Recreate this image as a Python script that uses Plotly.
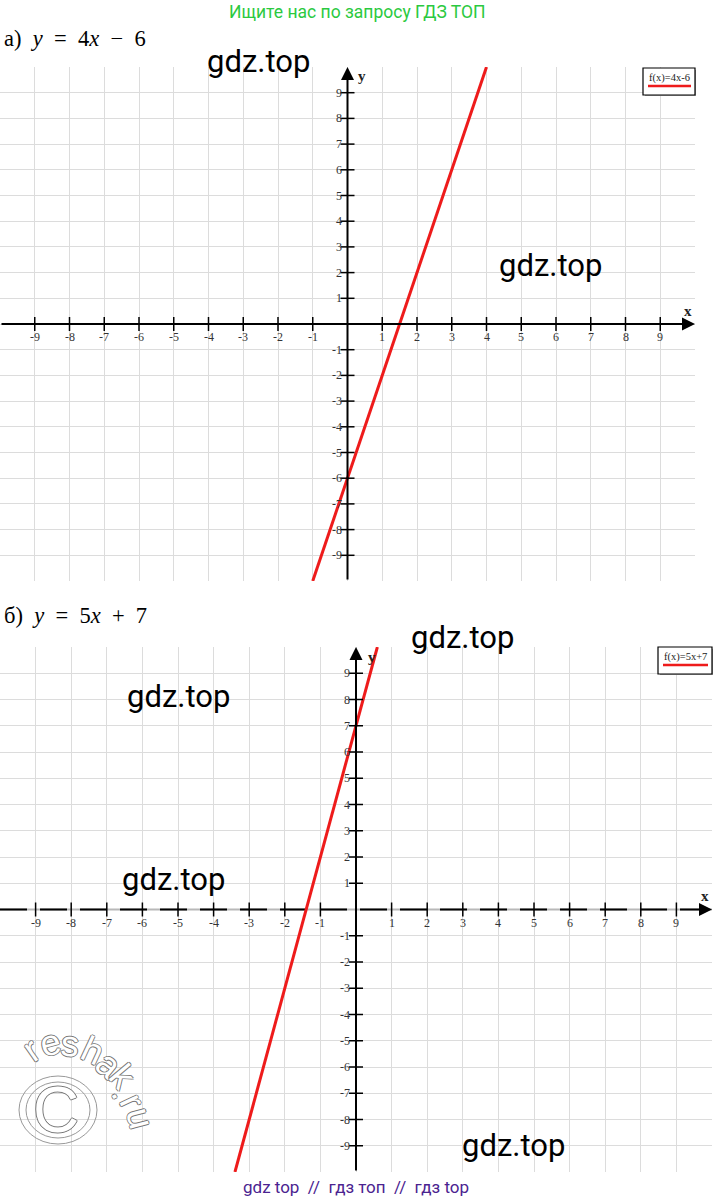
import plotly.graph_objects as go

W, H = 714, 1201

# ---------------- data ----------------
axis_range = [-10, 10]
grid_ticks = list(range(-9, 10))
tick_values = [v for v in range(-9, 10) if v != 0]

top_title = "а)  <i>y</i>  =  4<i>x</i>  −  6"
top_legend = "f(x)=4x-6"
top_line_x = [-1, 4]
top_line_y = [-10, 10]

bot_title = "б)  <i>y</i>  =  5<i>x</i>  +  7"
bot_legend = "f(x)=5x+7"
bot_line_x = [-3.4, 0.6]
bot_line_y = [-10, 10]

header_text = "Ищите нас по запросу ГДЗ ТОП"
footer_text = "gdz top  //  гдз топ  //  гдз top"
watermarks = [(258, 61), (550, 265), (462, 637), (178, 696), (173, 879), (513, 1145)]


def px(x):
    return x / W


def py(y):
    return 1 - y / H


fig = go.Figure()

panels = [
    dict(xa="x", ya="y", xaxis="xaxis", yaxis="yaxis", dashed=False,
         dom_x=[0, 695 / W], dom_y=[py(581), py(67)],
         lx=top_line_x, ly=top_line_y, legend=top_legend, title=top_title, title_y=38,
         xlab=(688, 311), ylab=(362, 76), box=(643, 68, 695, 95)),
    dict(xa="x2", ya="y2", xaxis="xaxis2", yaxis="yaxis2", dashed=True,
         dom_x=[0, 712 / W], dom_y=[py(1172), py(647)],
         lx=bot_line_x, ly=bot_line_y, legend=bot_legend, title=bot_title, title_y=615,
         xlab=(705, 896), ylab=(372, 657), box=(658, 647, 712, 674)),
]

annotations = []
shapes = []
serif = "Liberation Serif"


def note(x, y, text, font, xanchor="center", yanchor="middle", **kw):
    d = dict(x=x, y=y, text=text, showarrow=False, font=font,
             xanchor=xanchor, yanchor=yanchor)
    d.update(kw)
    annotations.append(d)


def pnote(x, y, text, font, **kw):
    note(px(x), py(y), text, font, xref="paper", yref="paper", **kw)


for p in panels:
    xa, ya = p["xa"], p["ya"]
    # x axis line (bottom panel has a faded dashed look)
    if p["dashed"]:
        fig.add_trace(go.Scatter(x=axis_range, y=[0, 0], mode="lines",
                                 line=dict(color="#b8b8b8", width=2),
                                 xaxis=xa, yaxis=ya, showlegend=False, hoverinfo="skip"))
        fig.add_trace(go.Scatter(x=axis_range, y=[0, 0], mode="lines",
                                 line=dict(color="black", width=2, dash="27px,13px"),
                                 xaxis=xa, yaxis=ya, showlegend=False, hoverinfo="skip"))
    # red function line
    fig.add_trace(go.Scatter(x=p["lx"], y=p["ly"], mode="lines",
                             line=dict(color="#ee1b1b", width=3),
                             xaxis=xa, yaxis=ya, showlegend=False, hoverinfo="skip"))
    # tick marks on the axes
    fig.add_trace(go.Scatter(x=tick_values, y=[0] * len(tick_values), mode="markers",
                             marker=dict(symbol="line-ns", size=10,
                                         line=dict(color="black", width=1.5)),
                             xaxis=xa, yaxis=ya, showlegend=False, hoverinfo="skip"))
    fig.add_trace(go.Scatter(x=[0] * len(tick_values), y=tick_values, mode="markers",
                             marker=dict(symbol="line-ew", size=10,
                                         line=dict(color="black", width=1.5)),
                             xaxis=xa, yaxis=ya, showlegend=False, hoverinfo="skip"))
    # axes with arrows
    if p["dashed"]:
        annotations.append(dict(x=axis_range[1], y=0, ax=axis_range[1] - 0.3, ay=0,
                                xref=xa, yref=ya, axref=xa, ayref=ya, text="",
                                showarrow=True, arrowhead=2, arrowsize=1.3, arrowwidth=2,
                                arrowcolor="black", standoff=0, startstandoff=0))
    else:
        annotations.append(dict(x=axis_range[1], y=0, ax=axis_range[0], ay=0,
                                xref=xa, yref=ya, axref=xa, ayref=ya, text="",
                                showarrow=True, arrowhead=2, arrowsize=1.3, arrowwidth=2,
                                arrowcolor="black", standoff=0, startstandoff=0))
    annotations.append(dict(x=0, y=axis_range[1], ax=0, ay=axis_range[0],
                            xref=xa, yref=ya, axref=xa, ayref=ya, text="",
                            showarrow=True, arrowhead=2, arrowsize=1.3, arrowwidth=2,
                            arrowcolor="black", standoff=0, startstandoff=0))
    # tick labels
    tfont = dict(family=serif, size=12, color="#333")
    for v in tick_values:
        note(v, 0, str(v), tfont, xref=xa, yref=ya, yshift=-13)
        note(0, v, str(v), tfont, xref=xa, yref=ya, xanchor="right", xshift=-4)
    # axis names
    lfont = dict(family=serif, size=15, color="#222")
    pnote(p["xlab"][0], p["xlab"][1], "<b>x</b>", lfont)
    pnote(p["ylab"][0], p["ylab"][1], "<b>y</b>", lfont)
    # legend box
    x0, y0, x1, y1 = p["box"]
    shapes.append(dict(type="rect", xref="paper", yref="paper",
                       x0=px(x0 + 2), x1=px(x1 + 1), y0=py(y0 + 2), y1=py(y1 + 1),
                       line=dict(width=0), fillcolor="#aaaaaa", layer="above"))
    shapes.append(dict(type="rect", xref="paper", yref="paper",
                       x0=px(x0), x1=px(x1), y0=py(y0), y1=py(y1),
                       line=dict(color="black", width=1.2), fillcolor="white", layer="above"))
    cx = (x0 + x1) / 2
    pnote(cx, y0 + 10, p["legend"], dict(family=serif, size=10.5, color="#222"))
    shapes.append(dict(type="line", xref="paper", yref="paper",
                       x0=px(x0 + 5), x1=px(x1 - 4), y0=py(y0 + 18), y1=py(y0 + 18),
                       line=dict(color="#ee1b1b", width=2.5), layer="above"))
    # panel title
    pnote(2, p["title_y"], p["title"], dict(family=serif, size=22.5, color="black"),
          xanchor="left")

    common = dict(range=axis_range, tickvals=grid_ticks, showticklabels=False, ticks="",
                  showgrid=True, gridcolor="#dcdcdc", gridwidth=1.2, zeroline=False,
                  showline=False, fixedrange=True)
    fig.layout[p["xaxis"]] = dict(domain=p["dom_x"], anchor=ya, **common)
    fig.layout[p["yaxis"]] = dict(domain=p["dom_y"], anchor=xa, **common)

# header / footer
pnote(357, 12, header_text, dict(family="Roboto", size=17.5, color="#2bc940"))
pnote(356, 1187, footer_text, dict(family="Roboto", size=17, color="#4b2390"))

# gdz.top watermarks
for (wx, wy) in watermarks:
    pnote(wx, wy, "gdz.top", dict(family="Roboto", size=31, color="black"))

# reshak.ru outline watermark
outline = "1px 0 0 #777, -1px 0 0 #777, 0 1px 0 #777, 0 -1px 0 #777"
reshak_letters = ["r", "e", "s", "h", "a", "k", ".", "r", "u"]
reshak_pos = [(31, 1049), (50, 1042), (70, 1043), (93, 1050), (109, 1064),
              (123, 1076), (124, 1091), (133, 1101), (141, 1118)]
reshak_rot = [-35, -15, 5, 25, 40, 50, 60, 65, 75]
for ch, (lx, ly), rot in zip(reshak_letters, reshak_pos, reshak_rot):
    pnote(lx, ly, ch, dict(family="Arial", size=36, color="white", shadow=outline),
          textangle=rot)
shapes.append(dict(type="circle", xref="paper", yref="paper",
                   x0=px(19), x1=px(97), y0=py(1076), y1=py(1144),
                   line=dict(color="#999", width=1)))
shapes.append(dict(type="circle", xref="paper", yref="paper",
                   x0=px(26), x1=px(90), y0=py(1082), y1=py(1138),
                   line=dict(color="#999", width=1)))
pnote(56, 1110, "C", dict(family="Arial", size=64, color="white", shadow=outline))

fig.update_layout(width=W, height=H, margin=dict(l=0, r=0, t=0, b=0),
                  paper_bgcolor="white", plot_bgcolor="white",
                  annotations=annotations, shapes=shapes, showlegend=False)

fig.write_html("out.html", config={"displayModeBar": False},
               post_script="document.body.style.margin='0px';")
